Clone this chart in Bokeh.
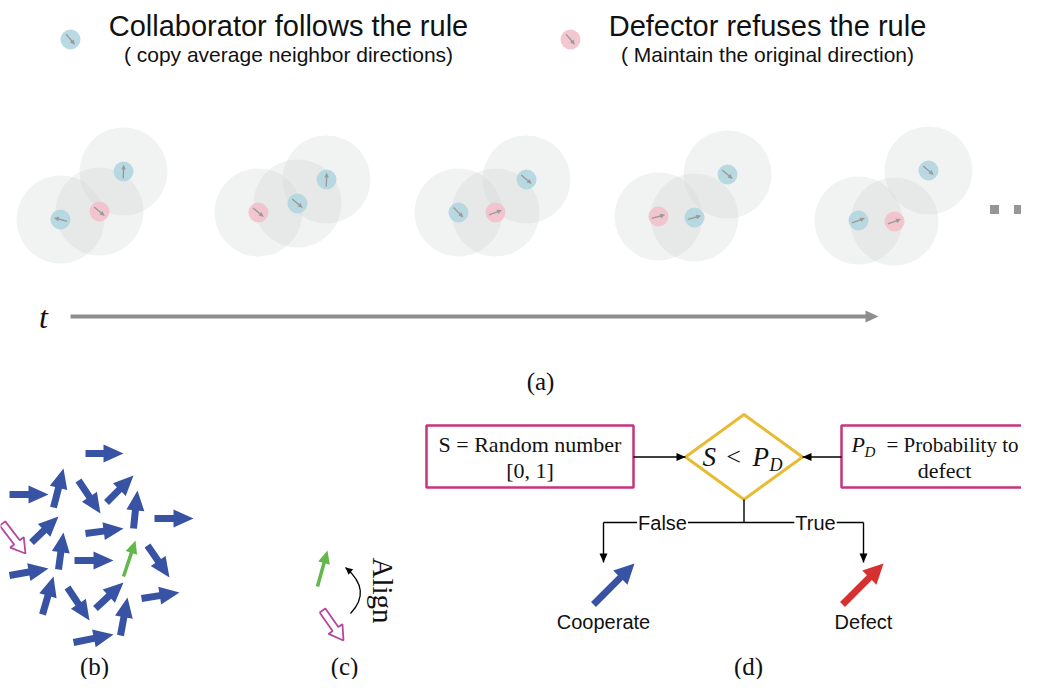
import math
from bokeh.plotting import figure
from bokeh.models import Range1d
from bokeh.core.properties import value
from bokeh.embed import file_html
from bokeh.resources import INLINE

# ---------------- data ----------------
# panel (a): agents in five time snapshots (x, y in picture pixels, heading in degrees, y-up convention)
agent_x = [60, 99, 123, 258, 297, 326, 458, 495, 526, 658, 694, 727, 858, 894, 928]
agent_y = [219, 211, 171, 212, 203, 179, 212, 212, 179, 216, 217, 174, 220, 221, 170]
agent_kind = ["C", "D", "C", "D", "C", "C", "C", "D", "C", "D", "C", "C", "C", "D", "C"]
agent_heading = [165, -40, 88, -40, -40, 88, -45, 20, -40, 15, 15, -40, 20, 20, -40]
neighbour_radius = 44
agent_radius = 10

legend_x = [70, 570]
legend_y = [39, 39]
legend_kind = ["C", "D"]
legend_heading = [-50, -50]
legend_title = ["Collaborator follows the rule", "Defector refuses the rule"]
legend_sub = ["( copy average neighbor directions)", "( Maintain the original direction)"]
legend_text_x = [288, 767]

time_axis = (70, 878, 316)
dots_x = [994, 1018]
dots_y = [209, 209]

# panel (b): blue agents (tail x, tail y, head x, head y)
b_tail_x = [85, 9, 53, 78, 106, 133, 154, 31, 85, 9, 58, 74, 147, 42, 67, 95, 141, 73, 120]
b_tail_y = [453, 494, 507, 480, 502, 528, 518, 542, 533, 575, 569, 560, 545, 614, 587, 608, 598, 642, 635]
b_head_x = [123, 48, 63, 100, 133, 137, 193, 58, 123, 48, 63, 113, 169, 53, 89, 123, 179, 113, 127]
b_head_y = [453, 494, 468, 513, 475, 490, 518, 516, 528, 568, 532, 560, 577, 576, 620, 582, 592, 634, 597]
green_arrows = [(123, 576, 135, 540), (317, 586, 327, 550)]
hollow_arrows = [(2, 523, 25, 553), (322, 610, 343, 640)]
align_curve = [(350, 613), (372, 590), (345, 567)]

# panel (d): flow chart
decision_arrows = [(593, 604, 634, 563, "#3853a4", "Cooperate", 603),
                   (842, 604, 883, 563, "#d63031", "Defect", 863)]
left_box = (426, 633, 425, 487)
right_box = (841, 1045, 425, 487)
diamond = (685, 802, 414, 499)
branch_y = 522
branch_x = [603, 863]
branch_end_y = 562
branch_labels = ["False", "True"]
branch_label_x = [662, 815]

panel_labels = ["(a)", "(b)", "(c)", "(d)"]
panel_label_x = [540, 94, 344, 748]
panel_label_y = [381, 666, 666, 666]

BLUE_AGENT = "#b3d6e0"
PINK_AGENT = "#f3c1cb"


def arrow_poly(x0, y0, x1, y1, sw, hw, hl):
    dx, dy = x1 - x0, y1 - y0
    L = math.hypot(dx, dy)
    ux, uy = dx / L, dy / L
    nx, ny = -uy, ux
    bx, by = x1 - ux * hl, y1 - uy * hl
    pts = [(x0 + nx * sw / 2, y0 + ny * sw / 2), (bx + nx * sw / 2, by + ny * sw / 2),
           (bx + nx * hw / 2, by + ny * hw / 2), (x1, y1),
           (bx - nx * hw / 2, by - ny * hw / 2), (bx - nx * sw / 2, by - ny * sw / 2),
           (x0 - nx * sw / 2, y0 - ny * sw / 2)]
    return [p[0] for p in pts], [p[1] for p in pts]


p = figure(width=1021, height=679, output_backend="svg", toolbar_location=None,
           x_range=Range1d(0, 1021), y_range=Range1d(679, 0), min_border=0)
p.axis.visible = False
p.grid.visible = False
p.outline_line_color = None
p.background_fill_color = "white"

SANS = value("Liberation Sans")
SERIF = value("Liberation Serif")
INK = "#111111"

# ---- panel (a) ----
p.circle(agent_x, agent_y, radius=neighbour_radius, fill_color="#d3d7d7", fill_alpha=0.33, line_color=None)
all_x = agent_x + legend_x
all_y = agent_y + legend_y
all_kind = agent_kind + legend_kind
all_head = agent_heading + legend_heading
p.circle(all_x, all_y, radius=agent_radius,
         fill_color=[BLUE_AGENT if k == "C" else PINK_AGENT for k in all_kind],
         fill_alpha=0.9, line_color=None)
axs, ays = [], []
for x, y, a in zip(all_x, all_y, all_head):
    c, s = math.cos(math.radians(a)), -math.sin(math.radians(a))
    xs, ys = arrow_poly(x - 7 * c, y - 7 * s, x + 7 * c, y + 7 * s, 1.4, 4.5, 5)
    axs.append(xs)
    ays.append(ys)
p.patches(axs, ays, fill_color="#9a9a9a", line_color=None)

p.text(legend_text_x, [25, 25], text=legend_title, text_font=SANS, text_font_size="29px",
       text_align="center", text_baseline="middle", text_color=INK)
p.text(legend_text_x, [54, 54], text=legend_sub, text_font=SANS, text_font_size="21px",
       text_align="center", text_baseline="middle", text_color=INK)

tx0, tx1, ty = time_axis
xs, ys = arrow_poly(tx0, ty, tx1, ty, 4, 12, 13)
p.patch(xs, ys, fill_color="#8e8e8e", line_color=None)
p.text([43], [316], text=["t"], text_font=SERIF, text_font_style="italic", text_font_size="32px",
       text_align="center", text_baseline="middle", text_color=INK)
p.rect(dots_x, dots_y, width=9, height=9, fill_color="#969696", line_color=None)

# ---- panel (b) & (c) ----
bxs, bys = [], []
for x0, y0, x1, y1 in zip(b_tail_x, b_tail_y, b_head_x, b_head_y):
    xs, ys = arrow_poly(x0, y0, x1, y1, 7, 18, 20)
    bxs.append(xs)
    bys.append(ys)
p.patches(bxs, bys, fill_color="#3853a4", line_color=None)

gxs, gys = [], []
for x0, y0, x1, y1 in green_arrows:
    xs, ys = arrow_poly(x0, y0, x1, y1, 3.5, 12, 13)
    gxs.append(xs)
    gys.append(ys)
p.patches(gxs, gys, fill_color="#62b84a", line_color=None)

hxs, hys = [], []
for x0, y0, x1, y1 in hollow_arrows:
    xs, ys = arrow_poly(x0, y0, x1, y1, 7, 17, 14)
    hxs.append(xs + [xs[0]])
    hys.append(ys + [ys[0]])
p.multi_line(hxs, hys, line_color="#b5479e", line_width=1.8)

(c0x, c0y), (ccx, ccy), (c1x, c1y) = align_curve
p.quadratic(x0=[c0x], y0=[c0y], x1=[c1x], y1=[c1y], cx=[ccx], cy=[ccy], line_color="black", line_width=1.3)
dx, dy = c1x - ccx, c1y - ccy
L = math.hypot(dx, dy)
xs, ys = arrow_poly(c1x - dx / L * 7, c1y - dy / L * 7, c1x, c1y, 0.1, 7, 7)
p.patch(xs, ys, fill_color="black", line_color=None)
p.text([382], [590], text=["Align"], text_font=SERIF, text_font_size="29px", angle=-math.pi / 2,
       text_align="center", text_baseline="middle", text_color=INK)

# ---- panel (d) ----
for (x0, x1, y0, y1) in [left_box, right_box]:
    p.quad(left=[x0], right=[x1], top=[y0], bottom=[y1], fill_color="white",
           line_color="#c8357e", line_width=2.5)
dl, dr, dt, db = diamond
dcx, dcy = (dl + dr) / 2, (dt + db) / 2
p.patch([dl, dcx, dr, dcx], [dcy, dt, dcy, db], fill_color="white", line_color="#e8bb35", line_width=3)

lines_x = [[left_box[1], dl], [right_box[0], dr], [dcx, dcx], [branch_x[0], branch_x[1]],
           [branch_x[0], branch_x[0]], [branch_x[1], branch_x[1]]]
lines_y = [[dcy, dcy], [dcy, dcy], [db, branch_y], [branch_y, branch_y],
           [branch_y, branch_end_y], [branch_y, branch_end_y]]
p.multi_line(lines_x, lines_y, line_color="black", line_width=1.4)
hx, hy = [], []
for (x0, y0, x1, y1) in [(dl - 10, dcy, dl, dcy), (dr + 10, dcy, dr, dcy),
                         (branch_x[0], branch_end_y - 10, branch_x[0], branch_end_y),
                         (branch_x[1], branch_end_y - 10, branch_x[1], branch_end_y)]:
    xs, ys = arrow_poly(x0, y0, x1, y1, 0.1, 8, 9)
    hx.append(xs)
    hy.append(ys)
p.patches(hx, hy, fill_color="black", line_color=None)

p.text(branch_label_x, [branch_y, branch_y], text=branch_labels, text_font=SANS, text_font_size="20px",
       text_align="center", text_baseline="middle", text_color=INK,
       background_fill_color="white", padding=1)

for x0, y0, x1, y1, col, lab, lx in decision_arrows:
    xs, ys = arrow_poly(x0, y0, x1, y1, 7, 20, 20)
    p.patch(xs, ys, fill_color=col, line_color=None)
    p.text([lx], [621], text=[lab], text_font=SANS, text_font_size="20px",
           text_align="center", text_baseline="middle", text_color=INK)

lcx = (left_box[0] + left_box[1]) / 2
p.text([lcx, lcx], [444, 470], text=["S = Random number", "[0, 1]"], text_font=SERIF,
       text_font_size="22px", text_align="center", text_baseline="middle", text_color=INK)
p.text([851], [444], text=["P"], text_font=SERIF, text_font_style="italic", text_font_size="22px",
       text_align="left", text_baseline="middle", text_color=INK)
p.text([864], [451], text=["D"], text_font=SERIF, text_font_style="italic", text_font_size="15px",
       text_align="left", text_baseline="middle", text_color=INK)
p.text([886], [444], text=["= Probability to"], text_font=SERIF,
       text_font_size="21px", text_align="left", text_baseline="middle", text_color=INK)
p.text([944], [470], text=["defect"], text_font=SERIF,
       text_font_size="22px", text_align="center", text_baseline="middle", text_color=INK)
p.text([702, 752], [456, 456], text=["S", "P"], text_font=SERIF, text_font_style="italic",
       text_font_size="27px", text_align="left", text_baseline="middle", text_color=INK)
p.text([733], [456], text=["<"], text_font=SERIF, text_font_size="26px",
       text_align="center", text_baseline="middle", text_color=INK)
p.text([769], [464], text=["D"], text_font=SERIF, text_font_style="italic", text_font_size="18px",
       text_align="left", text_baseline="middle", text_color=INK)

p.text(panel_label_x, panel_label_y, text=panel_labels, text_font=SERIF, text_font_size="25px",
       text_align="center", text_baseline="middle", text_color=INK)

open("out.html", "w").write(file_html(p, INLINE))
